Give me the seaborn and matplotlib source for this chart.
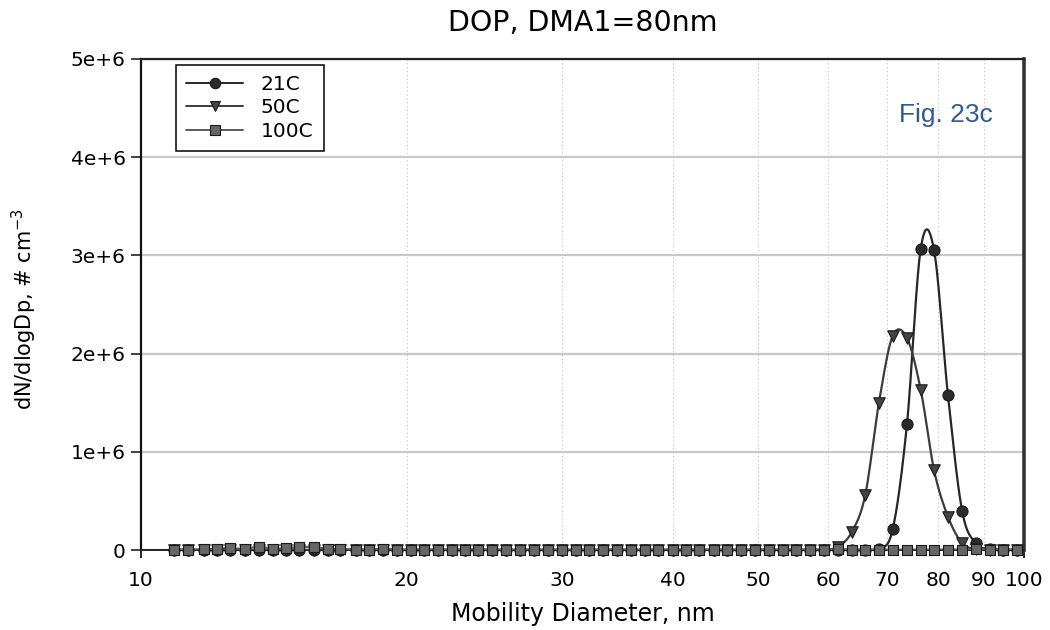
import numpy as np
import pandas as pd
import matplotlib
matplotlib.use("Agg")
import matplotlib.pyplot as plt
from matplotlib.lines import Line2D
from matplotlib.ticker import FixedLocator, FixedFormatter
import seaborn as sns

# Mobility diameter bin midpoints (nm), 64 channels per decade
diameter_nm = [10.9, 11.3, 11.8, 12.2, 12.6, 13.1, 13.6, 14.1, 14.6, 15.1,
               15.7, 16.3, 16.8, 17.5, 18.1, 18.8, 19.5, 20.2, 20.9, 21.7,
               22.5, 23.3, 24.1, 25.0, 25.9, 26.9, 27.9, 28.9, 30.0, 31.1,
               32.2, 33.4, 34.6, 35.9, 37.2, 38.5, 40.0, 41.4, 42.9, 44.5,
               46.1, 47.8, 49.6, 51.4, 53.3, 55.2, 57.3, 59.4, 61.5, 63.8,
               66.1, 68.5, 71.0, 73.7, 76.4, 79.1, 82.0, 85.1, 88.2, 91.4,
               94.7, 98.2]

# dN/dlogDp in units of 1e6 cm^-3
dn_21c = [0.0] * 51 + [0.01, 0.21, 1.28, 3.07, 3.05, 1.58, 0.40, 0.068,
                       0.01, 0.005, 0.0]
dn_50c = [0.0] * 47 + [0.005, 0.03, 0.18, 0.56, 1.50, 2.18, 2.16, 1.63,
                       0.81, 0.34, 0.07, 0.01, 0.0, 0.0, 0.0]
dn_100c = [0.005, 0.005, 0.008, 0.012, 0.02, 0.012, 0.035, 0.012, 0.02,
           0.03, 0.03, 0.012, 0.01, 0.005, 0.003, 0.015, 0.004, 0.004,
           0.003, 0.004, 0.003, 0.003, 0.004, 0.003, 0.003, 0.003, 0.004,
           0.003, 0.003, 0.003, 0.003, 0.003, 0.003, 0.003, 0.003, 0.003,
           0.004, 0.003, 0.003, 0.003, 0.003, 0.003, 0.003, 0.003, 0.003,
           0.003, 0.003, 0.003, 0.008, 0.004, 0.003, 0.003, 0.003, 0.003,
           0.003, 0.003, 0.003, 0.003, 0.008, 0.003, 0.003, 0.003]

series_labels = ["21C", "50C", "100C"]
y_tick_values = [0, 1e6, 2e6, 3e6, 4e6, 5e6]
y_tick_labels = ["0", "1e+6", "2e+6", "3e+6", "4e+6", "5e+6"]
x_major = [10, 100]
x_minor = [20, 30, 40, 50, 60, 70, 80, 90]


def smooth_curve(xs, ys, n=24):
    """Cubic Hermite (Catmull-Rom) curve through the points, in log-x."""
    lx = np.log10(np.asarray(xs, float))
    y = np.asarray(ys, float)
    yp = np.r_[y[0], y, y[-1]]
    t = np.linspace(0, 1, n, endpoint=False)
    h00 = 2 * t**3 - 3 * t**2 + 1
    h10 = t**3 - 2 * t**2 + t
    h01 = -2 * t**3 + 3 * t**2
    h11 = t**3 - t**2
    out_x, out_y = [], []
    for i in range(len(y) - 1):
        p0, p1, p2, p3 = yp[i:i + 4]
        m1 = (p2 - p0) / 2
        m2 = (p3 - p1) / 2
        out_y.append(h00 * p1 + h10 * m1 + h01 * p2 + h11 * m2)
        out_x.append(lx[i] + t * (lx[i + 1] - lx[i]))
    out_x.append([lx[-1]])
    out_y.append([y[-1]])
    return 10 ** np.concatenate(out_x), np.clip(np.concatenate(out_y), 0, None)


sns.set_theme(style="white")
plt.rcParams["font.family"] = ["DejaVu Sans"]
plt.rcParams["mathtext.fontset"] = "dejavusans"
for key in ["text.color", "axes.labelcolor", "xtick.color", "ytick.color"]:
    plt.rcParams[key] = "black"

fig = plt.figure(figsize=(10.5, 6.3), dpi=100)
ax = fig.add_axes([141 / 1050, 1 - 550 / 630, 883 / 1050, 491 / 630])

styles = {
    "21C": dict(line="#262626", face="#2b2b2b", marker="o", size=64),
    "50C": dict(line="#3c3c3c", face="#444444", marker="v", size=68),
    "100C": dict(line="#5a5a5a", face="#666666", marker="s", size=56),
}
series = {"21C": dn_21c, "50C": dn_50c, "100C": dn_100c}

for z, name in enumerate(series_labels):
    vals = np.asarray(series[name]) * 1e6
    st = styles[name]
    sx, sy = smooth_curve(diameter_nm, vals)
    curve = pd.DataFrame({"d": sx, "n": sy})
    sns.lineplot(data=curve, x="d", y="n", ax=ax, color=st["line"], lw=1.6,
                 sort=False, estimator=None, zorder=3 + 2 * z)
    pts = pd.DataFrame({"d": diameter_nm, "n": vals})
    sns.scatterplot(data=pts, x="d", y="n", ax=ax, marker=st["marker"],
                    s=st["size"], color=st["face"], edgecolor="#1a1a1a",
                    linewidth=0.8, zorder=4 + 2 * z, clip_on=False)

ax.set_xscale("log")
ax.set_xlim(10, 100)
ax.set_ylim(0, 5e6)

ax.xaxis.set_major_locator(FixedLocator(x_major))
ax.xaxis.set_major_formatter(FixedFormatter([str(v) for v in x_major]))
ax.xaxis.set_minor_locator(FixedLocator(x_minor))
ax.xaxis.set_minor_formatter(FixedFormatter([str(v) for v in x_minor]))
ax.tick_params(axis="x", which="major", length=6, width=1.2, color="black",
               labelsize=14.5, pad=9, bottom=True, direction="out",
               labelcolor="black")
ax.tick_params(axis="x", which="minor", length=0, labelsize=14.5, pad=15,
               bottom=True, labelcolor="black")

ax.set_yticks(y_tick_values)
ax.set_yticklabels(y_tick_labels)
ax.tick_params(axis="y", which="major", length=7, width=1.2, color="#222222",
               labelsize=14.5, pad=4, left=True, direction="out",
               labelcolor="black")

ax.yaxis.grid(True, color="#c8c8c8", lw=1.6, zorder=0)
ax.xaxis.grid(True, which="minor", ls=(0, (1, 2.5)), color="#c0c0c0", lw=0.8)
ax.xaxis.grid(False, which="major")
ax.set_axisbelow(True)

for side, lw, col in [("left", 1.6, "#111111"), ("top", 1.6, "#222222"),
                      ("right", 2.6, "#333333"), ("bottom", 1.4, "#222222")]:
    ax.spines[side].set_visible(True)
    ax.spines[side].set_linewidth(lw)
    ax.spines[side].set_color(col)

ax.set_title("DOP, DMA1=80nm", fontsize=20.5, pad=20, color="black")
ax.set_xlabel("Mobility Diameter, nm", fontsize=17, color="black",
              va="center")
ax.xaxis.set_label_coords(0.5, -0.131)
ax.set_ylabel("dN/dlogDp, # cm$^{-3}$", fontsize=15, color="black",
              va="center")
ax.yaxis.set_label_coords(-0.132, 0.49)

ax.text(0.912, 0.886, "Fig. 23c", transform=ax.transAxes, ha="center",
        va="center", fontsize=19, color="#2f5a92",
        family=["Liberation Sans", "DejaVu Sans"])

handles = [Line2D([], [], color=styles[n]["line"], lw=1.4,
                  marker=styles[n]["marker"], markersize=7.5,
                  markerfacecolor=styles[n]["face"],
                  markeredgecolor="#1a1a1a", markeredgewidth=0.8)
           for n in series_labels]
leg = ax.legend(handles, series_labels, loc="upper left",
                bbox_to_anchor=(0.04, 0.988), fontsize=14.5, frameon=True,
                fancybox=False, handlelength=2.8, handletextpad=0.9,
                labelspacing=0.22, borderpad=0.5, borderaxespad=0)
leg.get_frame().set_edgecolor("black")
leg.get_frame().set_linewidth(1.1)
leg.get_frame().set_facecolor("white")
leg.get_frame().set_alpha(1)

fig.savefig("out.png", dpi=100, facecolor="white")
